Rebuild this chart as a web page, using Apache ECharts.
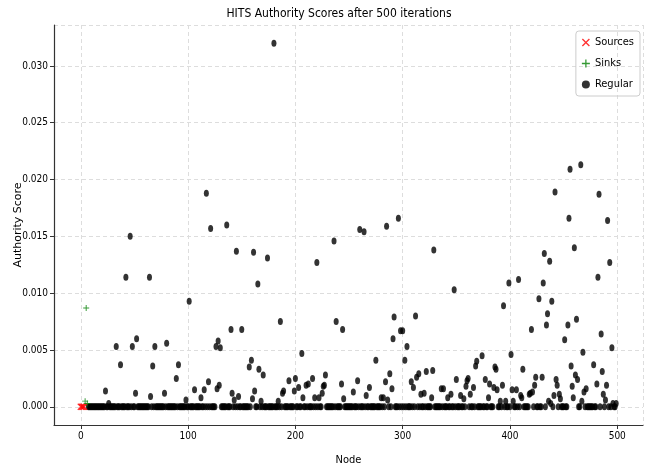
<!DOCTYPE html>
<html>
<head>
<meta charset="utf-8">
<script src="https://cdn.jsdelivr.net/npm/echarts@6/dist/echarts.min.js"></script>
<style>
  html, body { margin: 0; padding: 0; background: #fff; }
  #chart { width: 657px; height: 473px; }
</style>
</head>
<body>
<div id="chart"></div>
<script>
// authority score per node (index = node id)
const scores = [
  0, 0, 0, 0, 0.0005, 0.0087, 0.0003, 0, 0, 0,
  0, 0, 0, 0, 0, 0, 0, 0, 0, 0,
  0, 0, 0, 0.0014, 0, 0, 0.0003, 0, 0, 0,
  0, 0, 0, 0.0053, 0, 0, 0, 0.0037, 0, 0,
  0, 0, 0.0114, 0, 0, 0, 0.0150, 0, 0.0053, 0,
  0, 0.0012, 0.0060, 0, 0, 0, 0, 0, 0, 0,
  0, 0, 0, 0, 0.0114, 0.0009, 0, 0.0036, 0, 0.0053,
  0, 0, 0, 0, 0, 0, 0, 0, 0.0012, 0,
  0.0056, 0, 0, 0, 0, 0, 0, 0, 0, 0.0025,
  0, 0.0037, 0, 0, 0, 0, 0, 0, 0.0006, 0,
  0, 0.0093, 0, 0, 0, 0, 0.0015, 0, 0, 0,
  0, 0, 0.0008, 0, 0, 0.0015, 0, 0.0188, 0, 0.0022,
  0, 0.0157, 0, 0, 0, 0, 0.0053, 0.0016, 0.0058, 0.0019,
  0.0052, 0, 0, 0, 0, 0, 0.0160, 0, 0, 0,
  0.0068, 0.0012, 0, 0.0006, 0, 0.0137, 0, 0.0009, 0, 0,
  0.0068, 0, 0, 0, 0, 0, 0, 0.0035, 0, 0.0041,
  0.0007, 0.0136, 0.0014, 0, 0, 0.0108, 0.0033, 0, 0.0005, 0,
  0.0028, 0, 0, 0, 0.0131, 0, 0, 0, 0, 0,
  0.0320, 0, 0, 0, 0.0005, 0, 0.0075, 0, 0.0012, 0.0014,
  0, 0, 0, 0, 0.0023, 0, 0, 0, 0, 0.0014,
  0.0025, 0, 0, 0.0017, 0, 0, 0.0047, 0.0008, 0, 0,
  0.0019, 0, 0.0020, 0, 0, 0, 0.0025, 0, 0.0008, 0,
  0.0127, 0, 0.0008, 0, 0, 0.0012, 0.0018, 0.0019, 0.0028, 0,
  0, 0, 0, 0, 0, 0, 0.0146, 0, 0.0075, 0,
  0, 0, 0, 0.0020, 0.0068, 0.0007, 0, 0, 0, 0,
  0, 0, 0, 0, 0.0013, 0, 0, 0, 0.0023, 0,
  0.0156, 0, 0, 0, 0.0154, 0, 0.0010, 0, 0, 0.0017,
  0, 0, 0, 0, 0, 0.0041, 0, 0, 0, 0,
  0.0008, 0, 0.0008, 0, 0.0022, 0.0159, 0.0006, 0, 0.0029, 0,
  0.0016, 0.0060, 0.0079, 0, 0, 0, 0.0166, 0, 0.0067, 0,
  0.0067, 0, 0.0041, 0, 0.0053, 0, 0, 0, 0.0022, 0,
  0.0017, 0, 0.0080, 0.0026, 0, 0.0029, 0, 0.0011, 0, 0,
  0.0012, 0, 0.0031, 0, 0, 0, 0, 0.0008, 0.0032, 0.0138,
  0, 0, 0, 0, 0, 0, 0.0016, 0, 0.0016, 0,
  0, 0, 0.0008, 0, 0, 0.0011, 0, 0, 0.0103, 0,
  0.0024, 0, 0, 0, 0.0010, 0, 0, 0.0007, 0, 0.0018,
  0.0023, 0.0025, 0, 0.0011, 0, 0, 0.0017, 0, 0.0036, 0.0040,
  0, 0, 0, 0, 0.0045, 0, 0, 0.0024, 0, 0,
  0.0008, 0.0020, 0, 0, 0, 0.0017, 0.0035, 0.0033, 0.0015, 0,
  0, 0.0005, 0, 0.0019, 0.0089, 0, 0.0005, 0, 0, 0.0109,
  0, 0.0046, 0.0015, 0.0005, 0, 0, 0.0015, 0, 0.0112, 0,
  0.0010, 0.0008, 0.0033, 0, 0, 0, 0, 0, 0.0011, 0.0012,
  0.0068, 0.0013, 0, 0.0019, 0.0026, 0, 0, 0.0095, 0, 0,
  0.0026, 0.0109, 0.0135, 0, 0.0072, 0.0082, 0.0005, 0.0128, 0.0003, 0.0093,
  0, 0.0010, 0.0189, 0.0024, 0.0019, 0, 0.0011, 0.0007, 0, 0,
  0, 0.0059, 0, 0, 0.0072, 0.0166, 0.0209, 0.0036, 0.0018, 0.0008,
  0.0140, 0.0028, 0.0077, 0.0024, 0, 0, 0.0213, 0.0005, 0.0048, 0.0013,
  0, 0.0016, 0, 0, 0, 0, 0, 0, 0.0037, 0,
  0, 0.0020, 0.0114, 0.0187, 0, 0.0064, 0.0031, 0.0011, 0, 0.0006,
  0.0019, 0.0164, 0, 0.0127, 0, 0.0052, 0.0003, 0, 0, 0.0003
];
const sourceNodes = [0, 1, 2, 3];
const sinkNodes = [4, 5, 6];
const xTicks = [0, 100, 200, 300, 400, 500];

const isSpecial = (n) => sourceNodes.includes(n) || sinkNodes.includes(n);
const pick = (nodes) => nodes.map((n) => [n, scores[n]]);
const regular = scores.map((s, n) => [n, s]).filter((p) => !isSpecial(p[0]));

const xMark = 'path://M0,1.2L1.2,0L5,3.8L8.8,0L10,1.2L6.2,5L10,8.8L8.8,10L5,6.2L1.2,10L0,8.8L3.8,5Z';
const plusMark = 'path://M4.2,0H5.8V4.2H10V5.8H5.8V10H4.2V5.8H0V4.2H4.2Z';
const font = 'DejaVu Sans Condensed';

const chart = echarts.init(document.getElementById('chart'));
chart.setOption({
  animation: false,
  textStyle: { fontFamily: font },
  title: {
    text: 'HITS Authority Scores after 500 iterations',
    left: 334, top: 3, textAlign: 'center',
    textStyle: { fontFamily: font, fontWeight: 'normal', fontSize: 12, color: '#000' }
  },
  grid: { left: 54, right: 14, top: 25, bottom: 48, containLabel: false, outerBoundsMode: 'none' },
  legend: {
    orient: 'vertical', right: 17, top: 31,
    itemWidth: 8, itemHeight: 8, itemGap: 10,
    padding: [6, 6, 6, 6],
    borderColor: '#ccc', borderWidth: 1, borderRadius: 3,
    textStyle: { fontFamily: font, fontSize: 11, color: '#000' },
    data: ['Sources', 'Sinks', 'Regular']
  },
  xAxis: {
    type: 'value', min: -25, max: 524,
    name: 'Node', nameLocation: 'middle', nameGap: 30, nameMoveOverlap: false,
    nameTextStyle: { fontFamily: font, fontSize: 11, color: '#000' },
    axisLine: { show: true, onZero: false, lineStyle: { color: '#333', width: 1.2 } },
    axisTick: { show: true, length: 4, lineStyle: { color: '#333' } },
    axisLabel: {
      fontSize: 10, color: '#000', margin: 6,
      showMinLabel: false, showMaxLabel: false,
      formatter: (v) => (xTicks.includes(v) ? String(v) : '')
    },
    splitLine: { show: true, lineStyle: { color: '#ddd', type: [4, 3] } }
  },
  yAxis: {
    type: 'value', min: -0.0016, max: 0.0336, splitNumber: 7,
    name: 'Authority Score', nameLocation: 'middle', nameGap: 30, nameMoveOverlap: false,
    nameTextStyle: { fontFamily: 'DejaVu Sans', fontSize: 11, color: '#000' },
    axisLine: { show: true, onZero: false, lineStyle: { color: '#333', width: 1.2 } },
    axisTick: { show: true, length: 4, lineStyle: { color: '#333' } },
    axisLabel: {
      fontSize: 10, color: '#000', margin: 6,
      showMinLabel: false, showMaxLabel: false,
      formatter: (v) => v.toFixed(3)
    },
    splitLine: { show: true, lineStyle: { color: '#ddd', type: [4, 3] } }
  },
  series: [
    {
      name: 'Sources', type: 'scatter', data: pick(sourceNodes),
      symbol: xMark, symbolSize: 7, z: 3,
      itemStyle: { color: '#ff0000' }
    },
    {
      name: 'Sinks', type: 'scatter', data: pick(sinkNodes),
      symbol: plusMark, symbolSize: 6, z: 3,
      itemStyle: { color: '#008000' }
    },
    {
      name: 'Regular', type: 'scatter', data: regular,
      symbol: 'circle', symbolSize: [5, 7], z: 2,
      itemStyle: { color: '#000', opacity: 0.8 }
    }
  ]
});
</script>
</body>
</html>
